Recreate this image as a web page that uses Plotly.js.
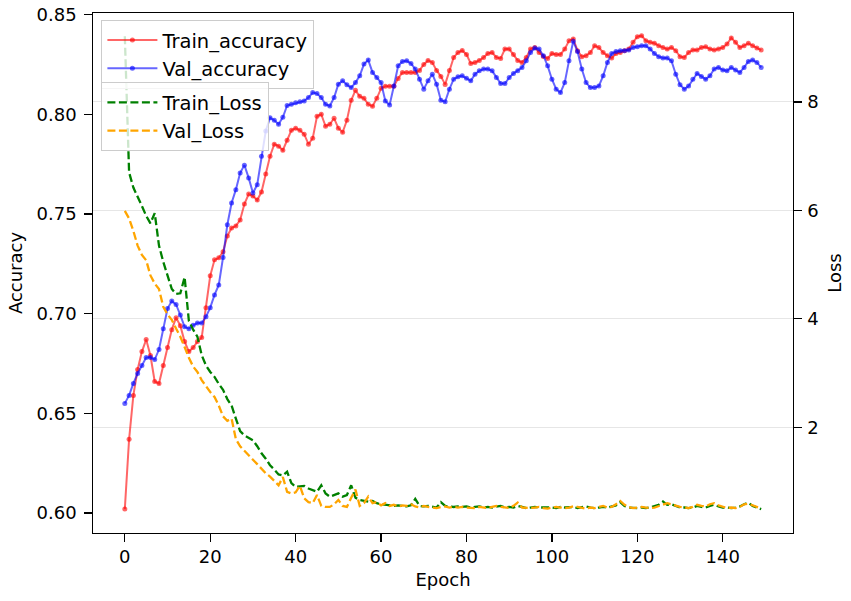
<!DOCTYPE html>
<html>
<head>
<meta charset="utf-8">
<script src="https://cdn.plot.ly/plotly-3.0.1.min.js"></script>
<style>
html,body{margin:0;padding:0;background:#fff;}
#chart{width:851px;height:601px;}
</style>
</head>
<body>
<div id="chart"></div>
<script>
const trainAcc = [
0.602,0.637,0.659,0.672,0.681,0.687,0.679,0.666,0.665,0.674,
0.683,0.692,0.698,0.694,0.686,0.681,0.683,0.686,0.688,0.703,
0.719,0.727,0.728,0.731,0.739,0.743,0.744,0.747,0.755,0.760,
0.759,0.757,0.761,0.770,0.779,0.785,0.784,0.782,0.787,0.792,
0.793,0.792,0.790,0.785,0.788,0.799,0.800,0.794,0.795,0.798,
0.793,0.791,0.797,0.807,0.812,0.809,0.808,0.805,0.804,0.808,
0.813,0.814,0.814,0.814,0.818,0.821,0.821,0.821,0.821,0.822,
0.825,0.827,0.826,0.822,0.819,0.815,0.822,0.8285,0.831,0.832,
0.830,0.8255,0.826,0.827,0.8285,0.8305,0.831,0.8285,0.828,0.8327,
0.8327,0.830,0.827,0.826,0.8285,0.8327,0.8335,0.831,0.829,0.828,
0.8305,0.830,0.830,0.8327,0.8369,0.8378,0.8319,0.8289,0.8294,0.831,
0.8344,0.8335,0.831,0.8294,0.8282,0.8305,0.831,0.8319,0.8327,0.8361,
0.8389,0.8394,0.8369,0.8361,0.8356,0.8344,0.8335,0.8327,0.8335,0.8319,
0.8289,0.8285,0.831,0.8322,0.8322,0.8335,0.8339,0.8327,0.8322,0.8327,
0.8335,0.8352,0.8383,0.8361,0.8335,0.8344,0.8356,0.8344,0.8332,0.8322
];
const valAcc = [
0.655,0.659,0.665,0.670,0.674,0.678,0.678,0.677,0.682,0.6925,
0.7026,0.7063,0.7046,0.6993,0.6934,0.6925,0.6942,0.6953,0.6953,0.6984,
0.703,0.7094,0.7144,0.7282,0.7446,0.7555,0.7622,0.7706,0.7745,0.7681,
0.7605,0.7647,0.779,0.7916,0.7983,0.797,0.795,0.7985,0.8044,0.805,
0.8058,0.8063,0.8067,0.8084,0.8109,0.8104,0.8084,0.805,0.8042,0.8084,
0.8151,0.8168,0.8148,0.8134,0.8159,0.8193,0.8252,0.8272,0.821,0.8184,
0.8159,0.8067,0.8047,0.8142,0.8243,0.8265,0.8268,0.8255,0.8227,0.8176,
0.8126,0.8168,0.8201,0.8151,0.807,0.8063,0.8126,0.8176,0.8188,0.8193,
0.8181,0.8168,0.8201,0.8218,0.8227,0.8227,0.8218,0.8184,0.8154,0.8154,
0.8184,0.8205,0.8218,0.8235,0.8268,0.831,0.8332,0.8327,0.8294,0.8243,
0.8176,0.8126,0.8109,0.8159,0.8268,0.8366,0.8315,0.8227,0.8159,0.8134,
0.8134,0.8142,0.8193,0.826,0.8305,0.8315,0.8319,0.8319,0.8322,0.8335,
0.8339,0.8344,0.8344,0.8327,0.8305,0.8289,0.8282,0.8282,0.8268,0.8201,
0.8148,0.8126,0.8142,0.8176,0.8205,0.819,0.8176,0.8193,0.8227,0.8235,
0.8222,0.8218,0.8235,0.8222,0.821,0.8235,0.8265,0.8272,0.826,0.8235
];
const trainLoss = [
9.21,6.70,6.42,6.26,6.08,5.90,5.76,5.95,5.35,5.05,
4.78,4.55,4.46,4.47,4.77,3.96,3.80,3.67,3.33,3.14,
3.02,2.93,2.80,2.69,2.52,2.40,2.16,1.93,1.85,1.80,
1.76,1.65,1.52,1.42,1.30,1.22,1.13,1.11,1.18,0.97,
0.90,0.91,0.92,0.87,0.84,0.81,0.93,0.78,0.72,0.75,
0.78,0.72,0.75,0.93,0.70,0.66,0.65,0.63,0.64,0.60,
0.58,0.57,0.56,0.55,0.56,0.55,0.54,0.56,0.68,0.55,
0.54,0.55,0.53,0.52,0.62,0.55,0.54,0.53,0.54,0.53,
0.54,0.52,0.53,0.54,0.52,0.53,0.52,0.54,0.55,0.52,
0.53,0.52,0.55,0.53,0.51,0.52,0.53,0.52,0.52,0.53,
0.52,0.51,0.53,0.52,0.52,0.53,0.51,0.53,0.54,0.52,
0.51,0.52,0.53,0.52,0.54,0.56,0.62,0.55,0.52,0.51,
0.51,0.52,0.51,0.52,0.54,0.57,0.63,0.57,0.58,0.55,
0.52,0.52,0.51,0.52,0.55,0.53,0.52,0.55,0.57,0.54,
0.52,0.52,0.51,0.52,0.54,0.58,0.61,0.55,0.52,0.49
];
const valLoss = [
5.99,5.85,5.62,5.35,5.18,5.08,4.80,4.65,4.55,4.22,
4.08,3.98,3.82,3.67,3.48,3.28,3.12,3.02,2.87,2.75,
2.65,2.56,2.40,2.20,2.12,2.16,1.78,1.65,1.56,1.48,
1.40,1.32,1.24,1.15,1.09,1.00,0.93,1.08,0.81,0.78,
0.80,0.92,0.69,0.62,0.60,0.75,0.55,0.53,0.53,0.58,
0.66,0.55,0.53,0.70,0.85,0.55,0.60,0.72,0.60,0.62,
0.56,0.60,0.55,0.57,0.54,0.56,0.55,0.58,0.54,0.52,
0.55,0.53,0.52,0.51,0.53,0.54,0.52,0.53,0.52,0.53,
0.52,0.52,0.51,0.53,0.52,0.51,0.53,0.55,0.53,0.52,
0.51,0.55,0.61,0.52,0.51,0.51,0.52,0.53,0.51,0.50,
0.52,0.53,0.52,0.51,0.52,0.54,0.53,0.51,0.50,0.52,
0.51,0.53,0.55,0.52,0.53,0.58,0.64,0.57,0.53,0.51,
0.52,0.53,0.52,0.51,0.52,0.55,0.58,0.60,0.58,0.55,
0.53,0.52,0.51,0.53,0.57,0.55,0.54,0.58,0.60,0.56,
0.53,0.51,0.52,0.51,0.53,0.58,0.59,0.56,0.53,0.50
];
const epochs = trainAcc.map((_, i) => i);
const accTicks = [0.60, 0.65, 0.70, 0.75, 0.80, 0.85];
const lossTicks = [2, 4, 6, 8];
const epochTicks = [0, 20, 40, 60, 80, 100, 120, 140];

const FONT = 'DejaVu Sans, sans-serif';
const traces = [
  {x: epochs, y: trainAcc, name: 'Train_accuracy', type: 'scatter', mode: 'lines+markers',
   line: {color: 'rgba(255,0,0,0.6)', width: 2}, marker: {color: 'rgba(255,0,0,0.6)', size: 5},
   yaxis: 'y', legend: 'legend'},
  {x: epochs, y: valAcc, name: 'Val_accuracy', type: 'scatter', mode: 'lines+markers',
   line: {color: 'rgba(0,0,255,0.6)', width: 2}, marker: {color: 'rgba(0,0,255,0.6)', size: 5},
   yaxis: 'y', legend: 'legend'},
  {x: epochs, y: trainLoss, name: 'Train_Loss', type: 'scatter', mode: 'lines',
   line: {color: 'green', width: 2.3, dash: '8px,3.5px'}, yaxis: 'y2', legend: 'legend2'},
  {x: epochs, y: valLoss, name: 'Val_Loss', type: 'scatter', mode: 'lines',
   line: {color: 'orange', width: 2.3, dash: '8px,3.5px'}, yaxis: 'y2', legend: 'legend2'}
];
const legendStyle = {
  xanchor: 'left', yanchor: 'top', bgcolor: 'rgba(255,255,255,0.8)',
  bordercolor: '#cccccc', borderwidth: 1, font: {family: FONT, size: 19.5, color: '#000'},
  itemwidth: 50, tracegroupgap: 0
};
const layout = {
  width: 851, height: 601,
  margin: {l: 93, r: 58, t: 13, b: 68},
  paper_bgcolor: '#fff', plot_bgcolor: '#fff',
  font: {family: FONT, size: 18, color: '#000'},
  showlegend: true,
  legend: Object.assign({x: 0.012, y: 0.987}, legendStyle),
  legend2: Object.assign({x: 0.012, y: 0.867}, legendStyle),
  xaxis: {
    range: [-7.45, 156.45], tickvals: epochTicks, ticks: 'outside', ticklen: 7.5, tickwidth: 1.2,
    tickcolor: '#000', showline: true, linecolor: '#000', linewidth: 1.2, mirror: true,
    showgrid: false, zeroline: false, tickfont: {family: FONT, size: 18},
    title: {text: 'Epoch', font: {family: FONT, size: 18}, standoff: 7}
  },
  yaxis: {
    range: [0.5900, 0.8508], tickvals: accTicks, tickformat: '.2f', ticks: 'outside', ticklen: 7.5,
    tickwidth: 1.2, tickcolor: '#000', showline: true, linecolor: '#000', linewidth: 1.2,
    showgrid: false, zeroline: false, tickfont: {family: FONT, size: 18}, ticklabelstandoff: 4,
    title: {text: 'Accuracy', font: {family: FONT, size: 18}, standoff: 9}
  },
  yaxis2: {
    overlaying: 'y', side: 'right', range: [0.05, 9.64], tickvals: lossTicks, ticks: 'outside',
    ticklen: 7.5, tickwidth: 1.2, tickcolor: '#000', showline: true, linecolor: '#000', linewidth: 1.2,
    showgrid: true, gridcolor: '#e6e6e6', gridwidth: 1, zeroline: false, ticklabelstandoff: 2,
    tickfont: {family: FONT, size: 18},
    title: {text: 'Loss', font: {family: FONT, size: 18}, standoff: 10}
  }
};
Plotly.newPlot('chart', traces, layout, {displayModeBar: false, staticPlot: true});
</script>
</body>
</html>
